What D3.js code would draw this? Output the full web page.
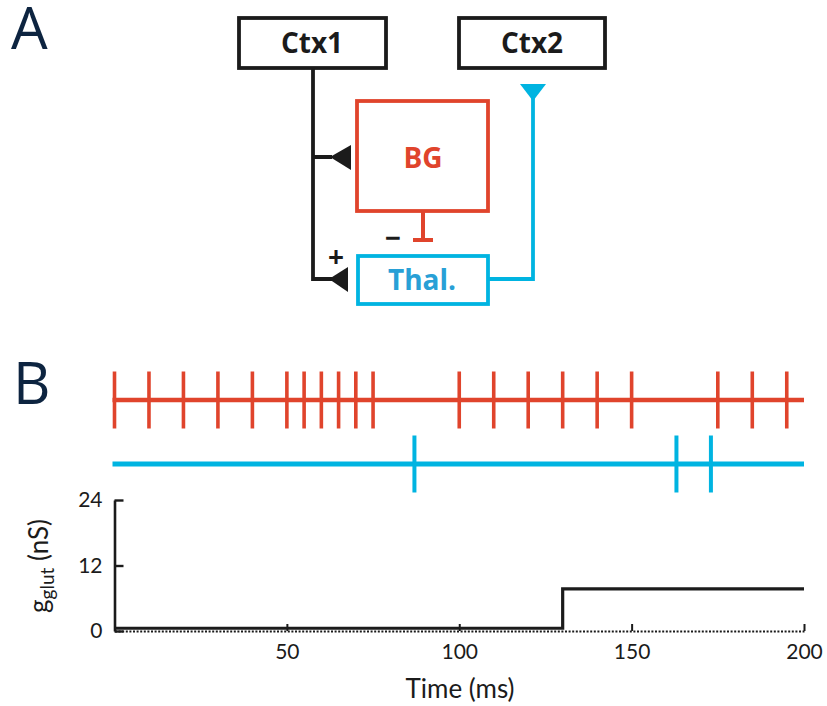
<!DOCTYPE html>
<head>
  <meta charset="utf-8" />
  <script src="https://d3js.org/d3.v7.min.js"></script>
  <style>
    body {
      margin: 0;
      background: #fff;
    }
    svg {
      display: block;
      font-family: "Open Sans", sans-serif;
    }
  </style>
</head>

<body>
  <svg width="827" height="706"></svg>

  <script>
    // spike times (ms)
    var bgSpikes = [0, 10, 20, 30, 40, 50, 55, 60, 65, 70, 75, 100, 110, 120, 130, 140, 150, 175, 185, 195];
    var thalSpikes = [87, 163, 173];

    // g_glut step trace (nS)
    var stepTimes = [0, 130, 200];
    var stepValues = [0.5, 7.7, 7.7];

    var xTicks = [50, 100, 150, 200];
    var yTicks = [0, 12, 24];

    var red = "#e0442c";
    var blue = "#00b4e1";
    var ink = "#1b1b1b";
    var navy = "#0d2440";

    var svg = d3.select("svg");

    // ---------- panel A : circuit ----------
    svg.append("text")
      .attr("x", 11)
      .attr("y", 49)
      .attr("fill", navy)
      .style("font-size", "58px")
      .text("A");

    var diag = svg.append("g");

    function box(x0, y0, x1, y1, color) {
      diag.append("rect")
        .attr("x", x0).attr("y", y0)
        .attr("width", x1 - x0).attr("height", y1 - y0)
        .attr("fill", "none")
        .attr("stroke", color)
        .attr("stroke-width", 3.8);
    }
    function label(x, y, txt, color) {
      diag.append("text")
        .attr("x", x).attr("y", y)
        .attr("text-anchor", "middle")
        .attr("fill", color)
        .style("font-size", "28px")
        .style("font-weight", "bold")
        .text(txt);
    }
    function tri(points, color) {
      diag.append("polygon")
        .attr("points", points.map(function (p) { return p.join(","); }).join(" "))
        .attr("fill", color);
    }

    // Ctx1 -> BG and Thal
    diag.append("path")
      .attr("d", "M313,68V279H332M313,157H332")
      .attr("fill", "none")
      .attr("stroke", ink)
      .attr("stroke-width", 3.8);
    tri([[330, 157], [351, 145], [351, 170]], ink);
    tri([[329, 279], [348, 267], [348, 292]], ink);

    // BG -| Thal
    diag.append("path")
      .attr("d", "M423,211V240M413,240H433")
      .attr("fill", "none")
      .attr("stroke", red)
      .attr("stroke-width", 4);

    // Thal -> Ctx2
    diag.append("path")
      .attr("d", "M488,279H533V96")
      .attr("fill", "none")
      .attr("stroke", blue)
      .attr("stroke-width", 3.8);
    tri([[520, 84], [546, 84], [533, 101]], blue);

    box(239, 18, 386, 68, ink);
    box(459, 18, 605, 68, ink);
    box(357, 101, 488, 211, red);
    box(358, 256, 488, 304, blue);

    label(312, 53, "Ctx1", ink);
    label(532, 53, "Ctx2", ink);
    label(423, 168, "BG", red);
    label(422, 290, "Thal.", "#28a0d6");
    label(393, 248, "\u2212", ink);
    label(336, 267, "+", ink);

    // ---------- panel B : spikes + conductance ----------
    svg.append("text")
      .attr("x", 13)
      .attr("y", 404)
      .attr("fill", navy)
      .style("font-size", "58px")
      .text("B");

    var x = d3.scaleLinear().domain([0, 200]).range([114.5, 804]);
    var y = d3.scaleLinear().domain([0, 24]).range([631, 500]);

    function raster(times, cy, half, color, lw, tw) {
      var g = svg.append("g");
      g.append("line")
        .attr("x1", x(0) - 2).attr("x2", x(200))
        .attr("y1", cy).attr("y2", cy)
        .attr("stroke", color)
        .attr("stroke-width", lw);
      g.selectAll(".spike")
        .data(times)
        .enter()
        .append("line")
        .attr("class", "spike")
        .attr("x1", function (d) { return x(d); })
        .attr("x2", function (d) { return x(d); })
        .attr("y1", cy - half)
        .attr("y2", cy + half)
        .attr("stroke", color)
        .attr("stroke-width", tw);
    }
    raster(bgSpikes, 400, 28.5, red, 4.5, 3.6);
    raster(thalSpikes, 464, 28.5, blue, 5, 4);

    var xAxis = svg.append("g")
      .attr("transform", "translate(0," + y(0) + ")")
      .call(d3.axisBottom(x).tickValues(xTicks).tickSizeInner(-7).tickSizeOuter(0).tickPadding(13));
    xAxis.select(".domain")
      .attr("stroke", ink)
      .attr("stroke-width", 2)
      .attr("stroke-dasharray", "2,1.6");
    xAxis.selectAll(".tick line").attr("stroke", ink).attr("stroke-width", 2);

    var yAxis = svg.append("g")
      .attr("transform", "translate(" + x(0) + ",0)")
      .call(d3.axisLeft(y).tickValues(yTicks).tickSizeInner(-9).tickSizeOuter(0).tickPadding(12));
    yAxis.select(".domain").attr("stroke", ink).attr("stroke-width", 2.6);
    yAxis.selectAll(".tick line").attr("stroke", ink).attr("stroke-width", 2.4);

    svg.selectAll(".tick text")
      .attr("fill", ink)
      .style("font-family", "Lato, sans-serif")
      .style("font-size", "21px");

    var line = d3.line()
      .x(function (d, i) { return x(stepTimes[i]); })
      .y(function (d) { return y(d); })
      .curve(d3.curveStepAfter);
    svg.append("path")
      .datum(stepValues)
      .attr("d", line)
      .attr("fill", "none")
      .attr("stroke", ink)
      .attr("stroke-width", 3.2);

    svg.append("text")
      .attr("x", 460)
      .attr("y", 698)
      .attr("text-anchor", "middle")
      .attr("fill", ink)
      .style("font-family", "Lato, sans-serif")
      .style("font-size", "26px")
      .text("Time (ms)");

    var yl = svg.append("text")
      .attr("transform", "translate(48,566) rotate(-90)")
      .attr("text-anchor", "middle")
      .attr("fill", ink)
      .style("font-family", "Lato, sans-serif")
      .style("font-size", "26px");
    yl.append("tspan").text("g");
    yl.append("tspan").attr("dy", 6).style("font-size", "19px").text("glut");
    yl.append("tspan").attr("dy", -6).text(" (nS)");
  </script>
</body>
